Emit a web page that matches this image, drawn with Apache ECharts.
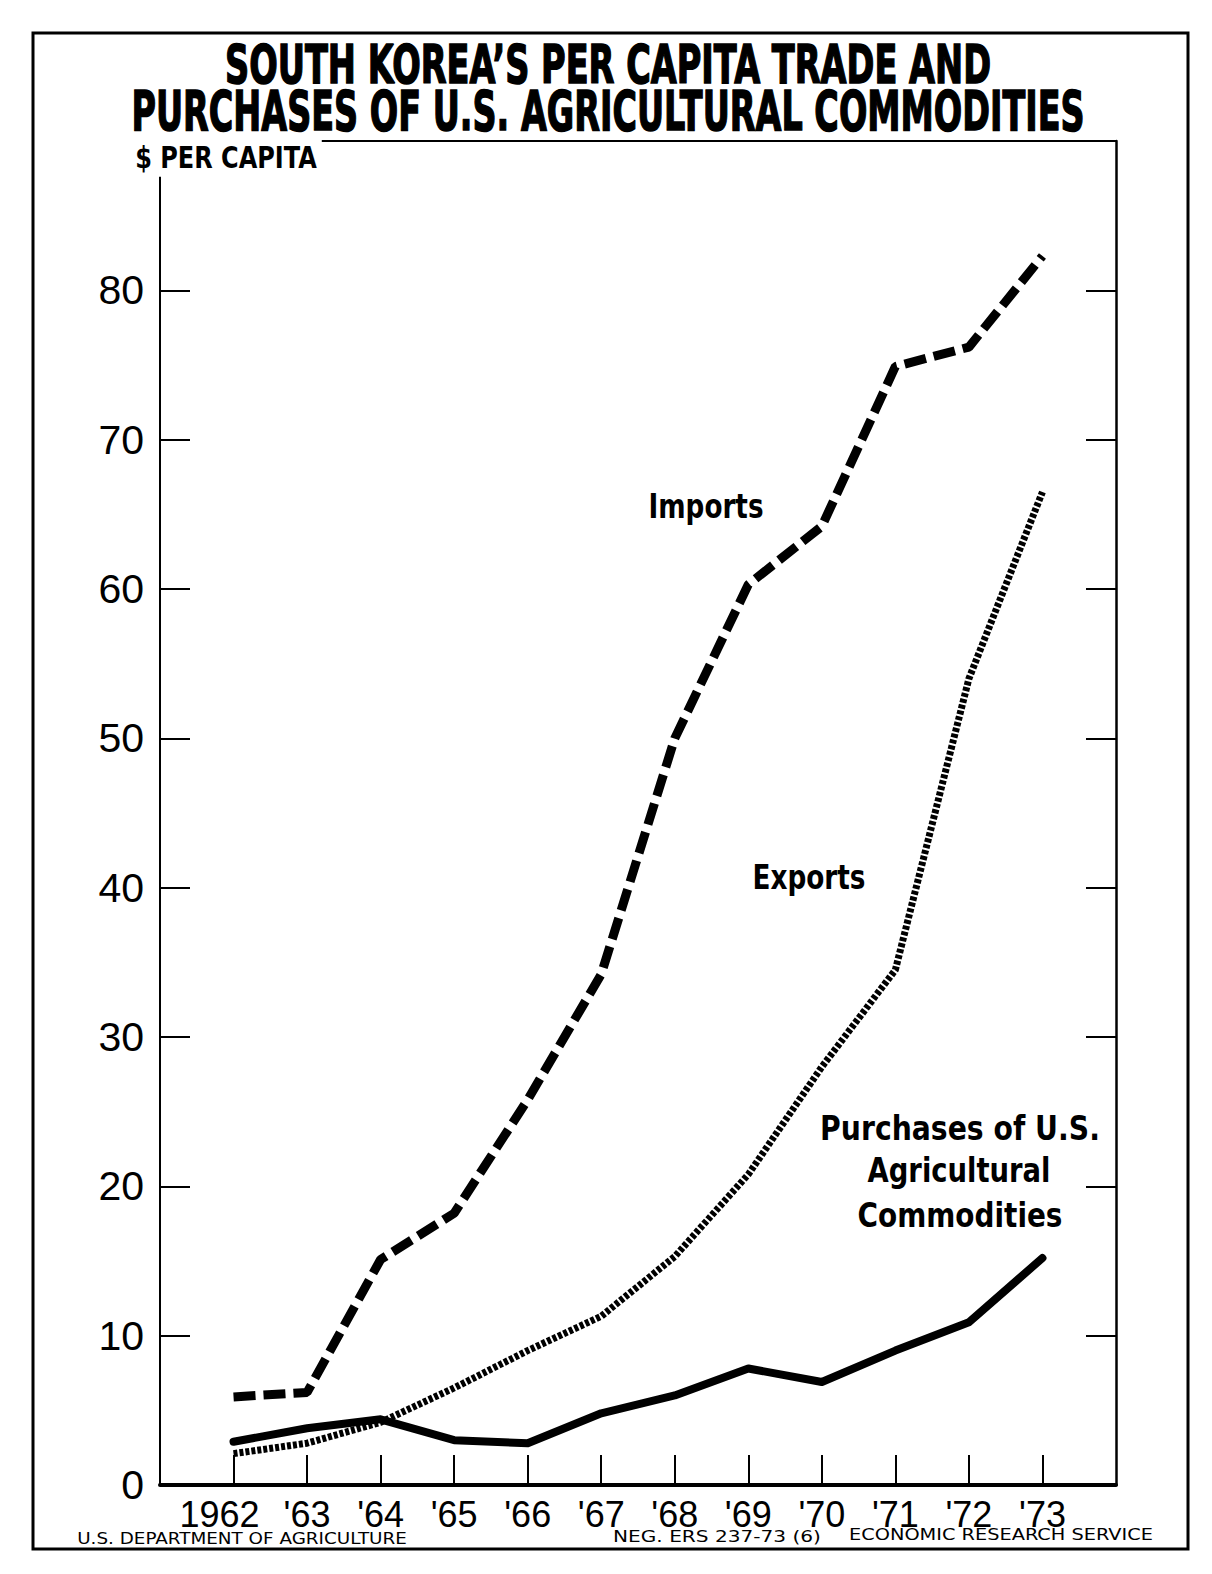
<!DOCTYPE html>
<html>
<head>
<meta charset="utf-8">
<script src="https://cdn.jsdelivr.net/npm/echarts@6.0.0/dist/echarts.min.js"></script>
<style>
html,body{margin:0;padding:0;background:#fff;}
#chart{width:1212px;height:1574px;}
</style>
</head>
<body>
<div id="chart"></div>
<script>
// ---- data ----
const years = [1962, 1963, 1964, 1965, 1966, 1967, 1968, 1969, 1970, 1971, 1972, 1973];
const xTickLabels = ['1962', "'63", "'64", "'65", "'66", "'67", "'68", "'69", "'70", "'71", "'72", "'73"];
const yTickValues = [0, 10, 20, 30, 40, 50, 60, 70, 80];
const importsPerCapita = [5.9, 6.2, 15.1, 18.2, 25.8, 34.2, 50.0, 60.3, 64.2, 74.9, 76.2, 82.3];
const exportsPerCapita = [2.1, 2.8, 4.2, 6.5, 9.0, 11.3, 15.3, 20.8, 28.0, 34.5, 54.0, 66.5];
const purchasesUSAg   = [2.9, 3.8, 4.4, 3.0, 2.8, 4.8, 6.0, 7.8, 6.9, 9.0, 10.9, 15.2];

const titleLines = ['SOUTH KOREA\u2019S PER CAPITA TRADE AND', 'PURCHASES OF U.S. AGRICULTURAL COMMODITIES'];
const unitLabel = '$ PER CAPITA';
const seriesLabels = { imports: 'Imports', exports: 'Exports', purchases: ['Purchases of U.S.', 'Agricultural', 'Commodities'] };
const footer = ['U.S. DEPARTMENT OF AGRICULTURE', 'NEG. ERS 237-73 (6)', 'ECONOMIC RESEARCH SERVICE'];

// ---- helpers ----
const mctx = document.createElement('canvas').getContext('2d');
function fit(text, font, w) { mctx.font = font; return w / mctx.measureText(text).width; }
function txt(text, font, cx, cy, w, strokeW) {
  const style = { text: text, font: font, fill: '#000', align: 'center', textAlign: 'center',
                  verticalAlign: 'middle', textVerticalAlign: 'middle' };
  if (strokeW) { style.stroke = '#000'; style.lineWidth = strokeW; }
  return { type: 'text', x: cx, y: cy, scaleX: fit(text, font, w), z: 20, silent: true, style: style };
}
const pairs = arr => years.map((y, i) => [y, arr[i]]);

const LBL = '"Liberation Sans", "DejaVu Sans", sans-serif';
const B = '"DejaVu Sans", "Liberation Sans", sans-serif';

const chart = echarts.init(document.getElementById('chart'), null, { renderer: 'svg' });

const option = {
  animation: false,
  backgroundColor: '#fff',
  grid: { left: 160, right: 96, top: 141, bottom: 89, containLabel: false },
  xAxis: {
    type: 'value', min: 1961, max: 1974,
    axisLine: { show: true, onZero: false, lineStyle: { color: '#000', width: 4 } },
    axisTick: { show: true, inside: true, length: 30, customValues: years, lineStyle: { color: '#000', width: 2 } },
    axisLabel: {
      show: true, customValues: years, margin: 11, color: '#000', fontSize: 36, fontFamily: LBL,
      formatter: v => { const i = years.indexOf(v); if (i < 0) return ''; return i === 0 ? '{yr|' + xTickLabels[i] + '}' : xTickLabels[i]; },
      rich: { yr: { fontSize: 36, fontFamily: LBL, color: '#000', padding: [0, 28, 0, 0] } }
    },
    splitLine: { show: false }
  },
  yAxis: [
    {
      type: 'value', position: 'left', min: 0, max: 90,
      axisLine: { show: false },
      axisTick: { show: true, inside: true, length: 30, customValues: yTickValues.slice(1), lineStyle: { color: '#000', width: 2 } },
      axisLabel: { show: true, customValues: yTickValues, margin: 16, color: '#000', fontSize: 41, fontFamily: LBL },
      splitLine: { show: false }
    },
    {
      type: 'value', position: 'right', min: 0, max: 90,
      axisLine: { show: true, lineStyle: { color: '#000', width: 2.5 } },
      axisTick: { show: true, inside: true, length: 30, customValues: yTickValues.slice(1), lineStyle: { color: '#000', width: 2 } },
      axisLabel: { show: false },
      splitLine: { show: false }
    }
  ],
  series: [
    {
      name: 'Exports', type: 'line', data: pairs(exportsPerCapita), symbol: 'none', silent: true,
      lineStyle: { color: '#000', width: 7, type: [4, 2] }, z: 3
    },
    {
      name: 'Imports', type: 'line', data: pairs(importsPerCapita), symbol: 'none', silent: true,
      lineStyle: { color: '#000', width: 9, type: [22, 8] }, z: 4
    },
    {
      name: 'Purchases of U.S. Agricultural Commodities', type: 'line', data: pairs(purchasesUSAg), symbol: 'none', silent: true,
      lineStyle: { color: '#000', width: 8, join: 'round', cap: 'round' }, z: 5
    },
    {
      name: 'frame', type: 'line', data: [], clip: false, silent: true,
      markLine: {
        silent: true, symbol: ['none', 'none'], animation: false, label: { show: false },
        emphasis: { disabled: true },
        lineStyle: { color: '#000', width: 2, type: 'solid' },
        data: [
          [{ coord: [1961, 0] }, { coord: [1961, 87.6] }],
          [{ coord: [1963.2, 90] }, { coord: [1974, 90] }],
          [{ coord: [1960.82, 0], lineStyle: { width: 4, color: '#000', type: 'solid' } }, { coord: [1961, 0] }]
        ]
      }
    }
  ],
  graphic: [
    { type: 'rect', silent: true, z: 1, shape: { x: 33, y: 33, width: 1155, height: 1516 },
      style: { fill: 'none', stroke: '#000', lineWidth: 3 } },
    txt(titleLines[0], 'bold 54px ' + B, 608, 64, 766, 1.6),
    txt(titleLines[1], 'bold 56px ' + B, 608, 111, 953, 1.6),
    txt(unitLabel, 'bold 30px ' + B, 226, 158, 182),
    txt(seriesLabels.imports, 'bold 34px ' + B, 706, 506, 115),
    txt(seriesLabels.exports, 'bold 33px ' + B, 809, 877, 113),
    txt(seriesLabels.purchases[0], 'bold 33px ' + B, 960, 1128, 280),
    txt(seriesLabels.purchases[1], 'bold 33px ' + B, 959, 1171, 183),
    txt(seriesLabels.purchases[2], 'bold 33px ' + B, 960, 1216, 205),
    txt(footer[0], '16px ' + B, 242, 1538, 330),
    txt(footer[1], '16px ' + B, 717, 1536, 208),
    txt(footer[2], '16px ' + B, 1001, 1535, 304)
  ]
};
chart.setOption(option);
</script>
</body>
</html>
